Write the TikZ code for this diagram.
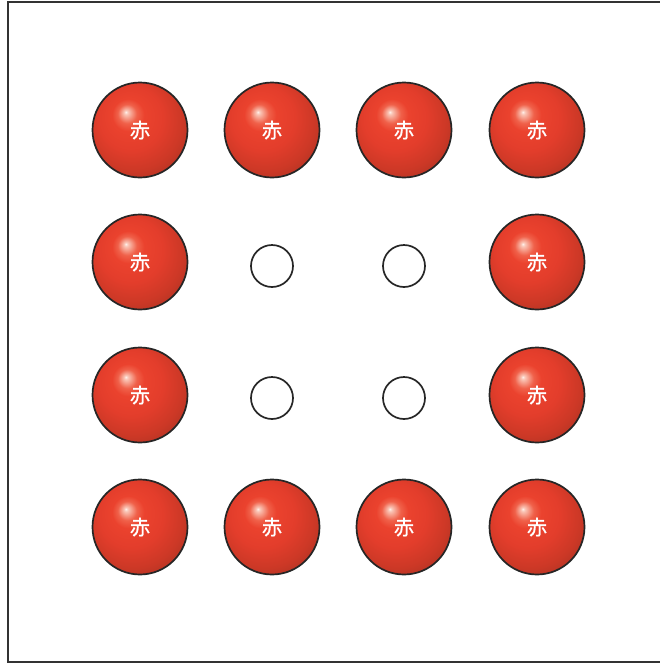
\documentclass[tikz,border=0pt]{standalone}
\usepackage{fontspec}
\newfontfamily\cjk[FakeBold=0.8]{Noto Sans CJK SC}
\pgfdeclareradialshading{redball}{\pgfpoint{-7.5bp}{9.5bp}}{%
rgb(0bp)=(1,0.95,0.93);
rgb(1bp)=(0.98,0.78,0.72);
rgb(5bp)=(0.94,0.38,0.29);
rgb(8.5bp)=(0.92,0.26,0.18);
rgb(17bp)=(0.89,0.24,0.17);
rgb(26bp)=(0.8,0.22,0.15);
rgb(36bp)=(0.64,0.19,0.13);
rgb(50bp)=(0.55,0.16,0.11)}
\tikzset{
  ball/.style={circle, draw=black!85, line width=1.7pt, minimum size=95pt, inner sep=0pt,
    shading=redball, text=white, font=\cjk\fontsize{20.5}{20.5}\selectfont},
  hole/.style={circle, draw=black!85, line width=1.7pt, minimum size=42pt, inner sep=0pt, fill=white},
  frame/.style={draw=black!80, line width=2pt}
}
\begin{document}
\begin{tikzpicture}[x=1pt,y=-1pt]
\useasboundingbox (0,0) rectangle (660,665);
\fill[white] (0,0) rectangle (660,665);
\draw[frame] (8,2) rectangle (680,662);
\node[ball] (b11) at (140,130) {赤};
\node[ball] (b12) at (272,130) {赤};
\node[ball] (b13) at (404,130) {赤};
\node[ball] (b14) at (537,130) {赤};
\node[ball] (b21) at (140,262) {赤};
\node[hole] (h22) at (272,266) {};
\node[hole] (h23) at (404,266) {};
\node[ball] (b24) at (537,262) {赤};
\node[ball] (b31) at (140,395) {赤};
\node[hole] (h32) at (272,398) {};
\node[hole] (h33) at (404,398) {};
\node[ball] (b34) at (537,395) {赤};
\node[ball] (b41) at (140,527) {赤};
\node[ball] (b42) at (272,527) {赤};
\node[ball] (b43) at (404,527) {赤};
\node[ball] (b44) at (537,527) {赤};
\end{tikzpicture}
\end{document}
